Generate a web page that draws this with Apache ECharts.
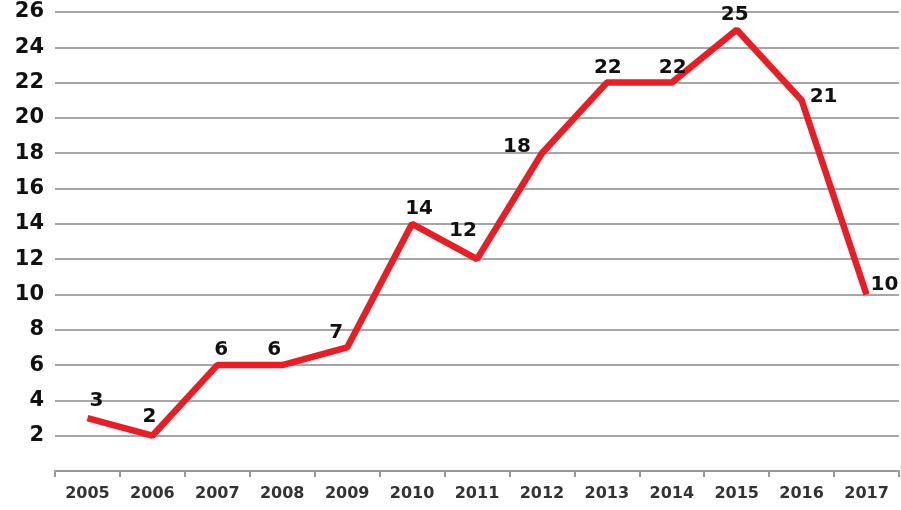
<!DOCTYPE html>
<html>
<head>
<meta charset="utf-8">
<script src="https://cdn.jsdelivr.net/npm/echarts@6/dist/echarts.min.js"></script>
<style>html,body{margin:0;padding:0;background:#fff}#c{width:901px;height:510px}</style>
</head>
<body>
<div id="c"></div>
<script>
const categories = ['2005','2006','2007','2008','2009','2010','2011','2012','2013','2014','2015','2016','2017'];
const values = [3, 2, 6, 6, 7, 14, 12, 18, 22, 22, 25, 21, 10];
const yTicks = [0, 2, 4, 6, 8, 10, 12, 14, 16, 18, 20, 22, 24, 26];

// label placement offsets (layout only)
const labelOffsets = [[9,-7],[-3,-8],[4,-5],[-8,-5],[-11,-4],[7,-5],[-14,-18],[-25,4],[1,-4],[1,-4],[-2,-4],[22,7],[18,1]];

const chart = echarts.init(document.getElementById('c'), null, {renderer: 'canvas'});
chart.setOption({
  animation: false,
  backgroundColor: '#fff',
  grid: {left: 55, right: 2, top: 12, bottom: 39},
  xAxis: {
    type: 'category',
    data: categories,
    boundaryGap: true,
    axisLine: {lineStyle: {color: '#999', width: 2}},
    axisTick: {show: true, length: 6, lineStyle: {color: '#999', width: 2}},
    axisLabel: {color: '#333', fontFamily: 'DejaVu Sans', fontWeight: 'bold', fontSize: 16, margin: 15}
  },
  yAxis: {
    type: 'value',
    min: yTicks[0],
    max: yTicks[yTicks.length - 1],
    interval: 2,
    axisLine: {show: false},
    axisTick: {show: false},
    splitLine: {lineStyle: {color: '#a6a6a6', width: 2}},
    axisLabel: {
      color: '#111', fontFamily: 'DejaVu Sans', fontWeight: 'bold', fontSize: 21, margin: 11,
      formatter: v => (v === 0 ? '' : String(v))
    }
  },
  series: [{
    type: 'line',
    data: values,
    showSymbol: false,
    symbol: 'none',
    lineStyle: {color: '#ec1c24', width: 6.5},
    z: 2
  }, {
    type: 'scatter',
    data: values.map((v, i) => ({
      value: v,
      label: {offset: labelOffsets[i]}
    })),
    symbol: 'circle',
    symbolSize: 1,
    itemStyle: {color: 'rgba(0,0,0,0)', opacity: 1},
    z: 3,
    label: {
      show: true,
      position: 'top',
      distance: 0,
      color: '#111',
      textBorderWidth: 0,
      fontFamily: 'DejaVu Sans',
      fontWeight: 'bold',
      fontSize: 20
    }
  }]
});
</script>
</body>
</html>
